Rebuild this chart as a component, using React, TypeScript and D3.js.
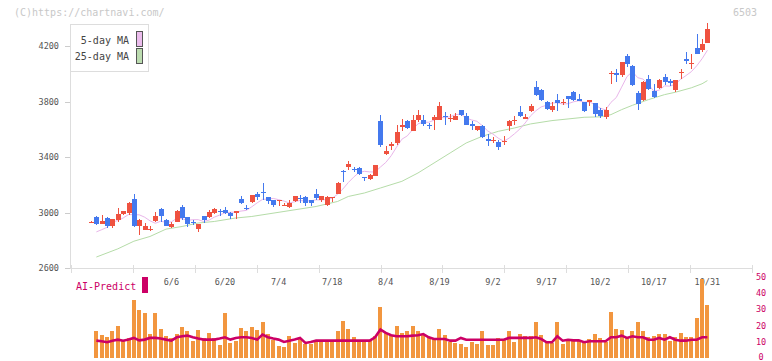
import React from 'react';
import * as d3 from 'd3';

const dateLabels = ['6/6', '6/20', '7/4', '7/18', '8/4', '8/19', '9/2', '9/17', '10/2', '10/17', '10/31'];
const dateLabelIdx = [16, 26, 36, 46, 56, 66, 76, 86, 96, 106, 116];
const priceTicks = [2600, 3000, 3400, 3800, 4200];
const volTicks = [0, 10, 20, 30, 40, 50];

const opens = [2930, 2969, 2921, 2964, 2901, 2950, 2991, 2995, 3101, 2901, 2877, 2880, 2937, 3029, 2950, 2894, 2935, 3043, 2969, 2935, 2885, 2978, 2966, 2995, 3012, 3022, 2995, 2995, 3101, 3036, 3074, 3137, 3151, 3113, 3094, 3085, 3056, 3038, 3081, 3105, 3110, 3094, 3137, 3094, 3058, 3110, 3137, 3300, 3326, 3312, 3322, 3259, 3243, 3262, 3663, 3425, 3481, 3499, 3615, 3663, 3591, 3665, 3670, 3631, 3665, 3670, 3696, 3675, 3670, 3742, 3699, 3639, 3598, 3627, 3533, 3519, 3510, 3511, 3622, 3668, 3723, 3675, 3730, 3906, 3886, 3795, 3742, 3814, 3795, 3838, 3867, 3822, 3795, 3798, 3790, 3742, 3687, 4004, 4007, 3990, 4131, 4054, 3863, 3814, 3964, 3879, 3899, 3978, 3946, 3886, 4009, 4110, 4077, 4187, 4168, 4223];
const highs = [2937, 2978, 2986, 2971, 2957, 3036, 3016, 3074, 3132, 2952, 2926, 2906, 3002, 3036, 2955, 2933, 3022, 3058, 2969, 2950, 2921, 2978, 3022, 3036, 3027, 3043, 3007, 3014, 3122, 3058, 3130, 3151, 3216, 3113, 3094, 3089, 3070, 3094, 3123, 3130, 3123, 3094, 3168, 3120, 3123, 3113, 3221, 3308, 3375, 3331, 3329, 3259, 3281, 3346, 3701, 3483, 3507, 3634, 3677, 3665, 3706, 3742, 3701, 3646, 3706, 3798, 3726, 3711, 3718, 3742, 3718, 3658, 3627, 3634, 3567, 3543, 3526, 3555, 3670, 3699, 3771, 3711, 3783, 3946, 3894, 3802, 3798, 3858, 3822, 3838, 3879, 3858, 3795, 3814, 3790, 3754, 3762, 4018, 4038, 4086, 4140, 4060, 3879, 3951, 3994, 3927, 3960, 4002, 3963, 3958, 4031, 4155, 4139, 4283, 4247, 4362];
const lows = [2930, 2914, 2920, 2887, 2892, 2935, 2981, 2981, 2899, 2841, 2875, 2865, 2930, 2933, 2901, 2890, 2933, 2950, 2894, 2911, 2858, 2926, 2964, 2988, 2978, 2991, 2955, 2955, 3060, 3022, 3070, 3094, 3094, 3063, 3038, 3050, 3045, 3031, 3074, 3070, 3045, 3045, 3094, 3077, 3050, 3077, 3132, 3223, 3305, 3295, 3272, 3226, 3233, 3262, 3473, 3413, 3454, 3490, 3586, 3605, 3586, 3656, 3622, 3603, 3598, 3665, 3634, 3653, 3665, 3694, 3629, 3598, 3586, 3538, 3478, 3502, 3454, 3490, 3586, 3634, 3690, 3675, 3726, 3843, 3802, 3742, 3726, 3730, 3773, 3755, 3807, 3802, 3723, 3771, 3687, 3682, 3677, 3930, 3939, 3975, 4047, 3910, 3742, 3807, 3885, 3827, 3894, 3922, 3910, 3867, 3966, 4072, 4038, 4139, 4158, 4218];
const closes = [2935, 2921, 2942, 2908, 2955, 2993, 3014, 3067, 2901, 2950, 2906, 2884, 2978, 2978, 2908, 2921, 3014, 2962, 2921, 2931, 2921, 2950, 3007, 3029, 3008, 3000, 2973, 3014, 3067, 3032, 3130, 3110, 3139, 3081, 3053, 3089, 3058, 3070, 3123, 3101, 3067, 3067, 3106, 3120, 3113, 3113, 3214, 3296, 3351, 3308, 3281, 3255, 3274, 3346, 3490, 3447, 3495, 3584, 3629, 3610, 3670, 3706, 3641, 3627, 3687, 3771, 3692, 3680, 3699, 3706, 3634, 3622, 3627, 3546, 3514, 3523, 3471, 3514, 3663, 3670, 3694, 3687, 3771, 3850, 3809, 3747, 3766, 3790, 3798, 3822, 3814, 3807, 3735, 3814, 3713, 3694, 3742, 4007, 3990, 4086, 4074, 3922, 3786, 3942, 3891, 3834, 3958, 3939, 3935, 3958, 4011, 4090, 4080, 4146, 4211, 4319];

// 5-day MA, candles 2..116
const ma5 = [2862, 2878, 2895, 2932, 2944, 2962, 2987, 2986, 2985, 2968, 2942, 2924, 2939, 2931, 2934, 2960, 2957, 2945, 2950, 2950, 2937, 2946, 2968, 2983, 2999, 3003, 3005, 3012, 3017, 3043, 3071, 3096, 3098, 3103, 3094, 3084, 3070, 3079, 3088, 3084, 3086, 3093, 3092, 3095, 3104, 3133, 3171, 3217, 3256, 3290, 3298, 3294, 3293, 3329, 3362, 3410, 3472, 3529, 3553, 3598, 3640, 3651, 3651, 3666, 3686, 3684, 3691, 3706, 3710, 3682, 3668, 3658, 3627, 3589, 3566, 3536, 3514, 3537, 3568, 3602, 3646, 3697, 3734, 3762, 3773, 3789, 3792, 3782, 3785, 3798, 3806, 3795, 3798, 3777, 3753, 3740, 3794, 3829, 3904, 3980, 4016, 3972, 3962, 3923, 3875, 3882, 3913, 3911, 3925, 3960, 3987, 4015, 4057, 4108, 4169];

// 25-day MA read at these candles
const ma25Idx = [2, 6, 9, 12, 15, 18, 21, 24, 28, 31, 37, 43, 47, 49, 52, 55, 59, 62, 65, 68, 71, 74, 77, 80, 83, 87, 90, 93, 96, 98, 100, 102, 105, 108, 110, 113, 115, 116];
const ma25Val = [2681, 2740, 2795, 2829, 2882, 2901, 2926, 2937, 2962, 2973, 3009, 3045, 3081, 3117, 3142, 3178, 3226, 3286, 3358, 3430, 3502, 3550, 3586, 3610, 3639, 3663, 3675, 3687, 3690, 3706, 3742, 3773, 3814, 3850, 3867, 3899, 3928, 3951];

const volumes = [0, 16.4, 14.4, 13.1, 16.9, 20, 10.2, 12.5, 35.6, 29.4, 28.1, 15, 27.7, 18.1, 13.75, 12.5, 15, 19.4, 16.9, 10.2, 17.5, 12.5, 15.6, 12.5, 8.1, 27.7, 9, 10.2, 18.75, 16.9, 19.4, 17.5, 22.5, 15, 11.25, 7.5, 6.9, 13.75, 9.4, 12.5, 8.75, 8.75, 11.25, 10, 11.25, 10, 16.9, 23.1, 18.1, 13.1, 10, 10, 11.25, 13.75, 31.25, 15.6, 14.4, 20, 15.6, 16.9, 20, 16.9, 14, 13, 12, 18, 14, 10, 9, 8.3, 6.5, 9.6, 8.5, 16.5, 7.7, 7.7, 12.5, 11, 16.5, 10, 14.5, 13.5, 13.5, 22, 14, 9, 9, 22, 8.5, 11, 11, 10.5, 9.5, 11.5, 14.5, 12.5, 10, 28.5, 18, 17.5, 13, 16.5, 22, 16.5, 13, 13.5, 15, 14.5, 10.5, 13, 15.5, 13, 13, 24.5, 49, 33];

// AI-Predict, candles 2..116
const aiPredict = [10.6, 10.2, 9.6, 10.6, 11.25, 10.6, 11.25, 12.3, 10.8, 11.25, 12.3, 12.3, 11.9, 11.25, 10.6, 12.7, 13.3, 13.75, 12.7, 11.9, 11.25, 11.25, 11.25, 11.9, 12.7, 11.25, 12.3, 12.7, 12.7, 12.3, 11.25, 14.4, 12.7, 11.9, 11.25, 9.8, 10.6, 11.25, 12.3, 9.2, 9.8, 10.6, 10.6, 10.6, 10.6, 10.6, 10.6, 10.6, 10.6, 10.6, 10.6, 10.6, 12.7, 17.5, 15.4, 14.0, 13.3, 13.3, 13.3, 13.75, 14.0, 14.7, 12.7, 11.6, 11.6, 11.6, 10.6, 10.6, 12.3, 11.2, 11.2, 11.2, 11.2, 11.2, 11.2, 11.2, 11.2, 12.3, 12.3, 12.3, 12.3, 12.3, 12.7, 11.6, 9.6, 9.6, 13.3, 10.6, 11.2, 10.8, 10.8, 9.6, 10.2, 10.2, 10.2, 10.2, 12.7, 12.7, 13.7, 12.3, 13.3, 12.7, 12.7, 11.2, 11.2, 12.3, 11.2, 12.7, 11.2, 10.6, 10.6, 11.2, 11.2, 12.7, 12.7];

const MONO = '"DejaVu Sans Mono", "Liberation Mono", monospace';
const UP = '#ef5240';
const DOWN = '#4479ee';

export default function App() {
  const x = d3.scaleLinear().domain([1, 116]).range([91, 707.4]);
  const y = d3.scaleLinear().domain([2600, 4200]).range([268.3, 46]);
  const yv = d3.scaleLinear().domain([0, 50]).range([357.7, 277.3]);
  const grid = d3.scaleLinear().domain([0, 11]).range([71, 752]);
  const gridTicks = d3.range(0, 12);

  const line = d3.line<[number, number]>().x(d => d[0]).y(d => d[1]);
  const ma5Path = line(ma5.map((v, k) => [x(k + 2), y(v)]));
  const ma25Path = line(ma25Val.map((v, k) => [x(ma25Idx[k]), y(v)]));
  const aiPath = line(aiPredict.map((v, k) => [x(k + 2), yv(v)]));

  return (
    <svg width={772} height={361} style={{ position: 'absolute', left: 0, top: 0, background: '#fff' }}>
      <text x={14} y={16} fontFamily={MONO} fontSize={10} fill="#c8c8c8">(C)https://chartnavi.com/</text>
      <text x={757} y={16} fontFamily={MONO} fontSize={10} fill="#c8c8c8" textAnchor="end">6503</text>

      {/* axes */}
      <line x1={70.5} y1={24} x2={70.5} y2={268} stroke="#ddd" />
      <line x1={70} y1={268.5} x2={752} y2={268.5} stroke="#ddd" />
      {gridTicks.map(t => (
        <line key={'gt' + t} x1={Math.round(grid(t)) + 0.5} x2={Math.round(grid(t)) + 0.5} y1={265} y2={273} stroke="#ddd" />
      ))}
      {priceTicks.map(p => (
        <g key={'pt' + p}>
          <line x1={65} x2={70} y1={Math.round(y(p)) + 0.5} y2={Math.round(y(p)) + 0.5} stroke="#ccc" />
          <text x={59} y={y(p) + 3} fontFamily={MONO} fontSize={8.5} fill="#555" textAnchor="end">{p}</text>
        </g>
      ))}
      {dateLabels.map((l, k) => (
        <text key={'dl' + k} x={x(dateLabelIdx[k])} y={285} fontFamily={MONO} fontSize={8.5} fill="#555" textAnchor="middle">{l}</text>
      ))}

      {/* volume */}
      <g shapeRendering="crispEdges">
        {volumes.map((v, k) => v > 0 ? (
          <rect key={'v' + k} x={Math.round(x(k + 1)) - 2} width={4} y={yv(v)} height={yv(0) - yv(v)} fill="#f2963f" />
        ) : null)}
      </g>
      <path d={aiPath || ''} fill="none" stroke="#cc0066" strokeWidth={2.6} />
      {volTicks.map(v => (
        <text key={'vt' + v} x={761} y={Math.min(yv(v) + 3, 359.5)} fontFamily={MONO} fontSize={8.5} fill="#cc0066" textAnchor="middle">{v}</text>
      ))}
      <text x={76} y={290} fontFamily={MONO} fontSize={10} fill="#cc0066">AI-Predict</text>
      <rect x={142} y={277} width={6} height={16} fill="#cc0066" />

      {/* moving averages */}
      <path d={ma25Path || ''} fill="none" stroke="#b5dca8" strokeWidth={1} />
      <path d={ma5Path || ''} fill="none" stroke="#e9b6ea" strokeWidth={1} />

      {/* candles */}
      <g shapeRendering="crispEdges">
        {closes.map((c, k) => {
          const o = opens[k];
          const col = c >= o ? UP : DOWN;
          const cx = Math.round(x(k + 1));
          const top = y(Math.max(o, c));
          const bot = y(Math.min(o, c));
          return (
            <g key={'c' + k}>
              <line x1={cx + 0.5} x2={cx + 0.5} y1={y(highs[k])} y2={y(lows[k])} stroke={col} />
              <rect x={cx - 2} width={5} y={top} height={Math.max(1, bot - top)} fill={col} />
            </g>
          );
        })}
      </g>

      {/* legend */}
      <rect x={70.5} y={24.5} width={78} height={47} fill="#fff" stroke="#ddd" />
      <text x={129} y={44} fontFamily={MONO} fontSize={10} fill="#444" textAnchor="end">5-day MA</text>
      <text x={129} y={60} fontFamily={MONO} fontSize={10} fill="#444" textAnchor="end">25-day MA</text>
      <rect x={136.5} y={31.5} width={6} height={15} fill="#ebbcec" stroke="#555" />
      <rect x={136.5} y={48.5} width={6} height={15} fill="#bcdcb0" stroke="#555" />
    </svg>
  );
}
